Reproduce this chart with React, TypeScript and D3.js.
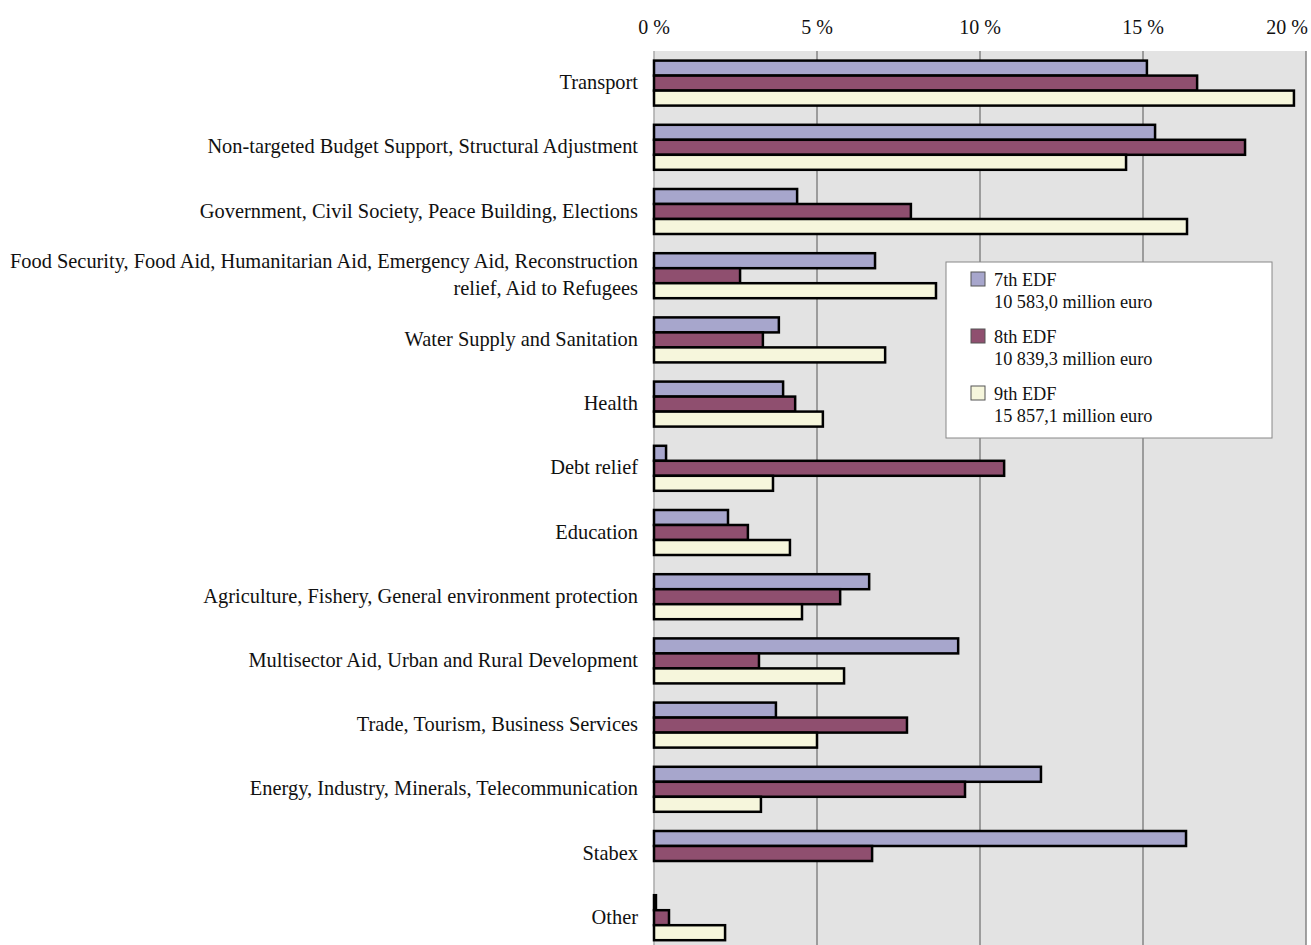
import React from 'react';
import * as d3 from 'd3';

const categories = [
  'Transport',
  'Non-targeted Budget Support, Structural Adjustment',
  'Government, Civil Society, Peace Building, Elections',
  'Food Security, Food Aid, Humanitarian Aid, Emergency Aid, Reconstruction\nrelief, Aid to Refugees',
  'Water Supply and Sanitation',
  'Health',
  'Debt relief',
  'Education',
  'Agriculture, Fishery, General environment protection',
  'Multisector Aid, Urban and Rural Development',
  'Trade, Tourism, Business Services',
  'Energy, Industry, Minerals, Telecommunication',
  'Stabex',
  'Other',
];

const seriesNames = ['7th EDF', '8th EDF', '9th EDF'];
const seriesTotals = ['10 583,0 million euro', '10 839,3 million euro', '15 857,1 million euro'];
const seriesColors = ['#a7a6cc', '#8f4f6f', '#f6f6dc'];

const edf7 = [15.12, 15.37, 4.39, 6.78, 3.83, 3.96, 0.37, 2.27, 6.6, 9.33, 3.74, 11.87, 16.32, 0.06];
const edf8 = [16.66, 18.13, 7.88, 2.64, 3.34, 4.33, 10.74, 2.88, 5.71, 3.22, 7.76, 9.54, 6.69, 0.46];
const edf9 = [19.63, 14.48, 16.35, 8.65, 7.09, 5.18, 3.65, 4.17, 4.54, 5.83, 5.0, 3.28, 0, 2.18];

const ticks = [0, 5, 10, 15, 20];

const width = 1311;
const height = 945;
const margin = { top: 51, left: 654, right: 5 };
const bandStep = 64.2;

const App: React.FC = () => {
  const values = [edf7, edf8, edf9];

  const x = d3.scaleLinear().domain([0, 20]).range([margin.left, width - margin.right]);
  const y = d3
    .scaleBand<string>()
    .domain(categories)
    .range([margin.top, margin.top + bandStep * categories.length])
    .paddingInner(0)
    .paddingOuter(0);
  const groupH = 45;
  const inner = d3.scaleBand<string>().domain(seriesNames).range([0, groupH]);
  const offset = (y.bandwidth() - groupH) / 2;
  const font = '"Liberation Serif", "DejaVu Serif", serif';

  return (
    <svg
      width={width}
      height={height}
      style={{ position: 'absolute', left: 0, top: 0, background: '#fff' }}
      fontFamily={font}
    >
      {/* plot background */}
      <rect x={x(0)} y={margin.top} width={x(20) - x(0)} height={height - margin.top} fill="#e3e3e3" />
      {ticks.map((t) => (
        <line key={'g' + t} x1={x(t)} x2={x(t)} y1={margin.top} y2={height} stroke={t === 0 ? '#aaa' : '#858585'} strokeWidth={1.5} />
      ))}
      {ticks.map((t, i) => (
        <text
          key={'t' + t}
          x={i === ticks.length - 1 ? width - 3 : x(t)}
          y={34}
          textAnchor={i === ticks.length - 1 ? 'end' : 'middle'}
          fontSize={20}
          fill="#111"
        >
          {t} %
        </text>
      ))}

      {categories.map((c, ci) => (
        <g key={c} transform={`translate(0,${(y(c) || 0) + offset})`}>
          {values.map((vals, si) =>
            vals[ci] > 0 ? (
              <rect
                key={si}
                x={x(0)}
                y={inner(seriesNames[si]) || 0}
                width={x(vals[ci]) - x(0)}
                height={inner.bandwidth()}
                fill={seriesColors[si]}
                stroke="#000"
                strokeWidth={2.5}
              />
            ) : null
          )}
        </g>
      ))}

      {categories.map((c) => {
        const lines = c.split('\n');
        const cy = (y(c) || 0) + y.bandwidth() / 2;
        const lh = 27;
        return (
          <text key={'l' + c} x={638} textAnchor="end" fontSize={20.4} fill="#111">
            {lines.map((ln, i) => (
              <tspan key={i} x={638} y={cy + 6 + (i - (lines.length - 1) / 2) * lh}>
                {ln}
              </tspan>
            ))}
          </text>
        );
      })}

      {/* legend */}
      <g transform="translate(946,262)">
        <rect x={0} y={0} width={326} height={176} fill="#fff" stroke="#888" strokeWidth={1} />
        {seriesNames.map((s, i) => {
          const top = 10 + i * 57;
          return (
            <g key={s} transform={`translate(0,${top})`}>
              <rect x={25} y={0} width={14} height={14} fill={seriesColors[i]} stroke="#555" strokeWidth={1} />
              <text x={48} y={14} fontSize={18.3} fill="#111">{s}</text>
              <text x={48} y={36} fontSize={18.3} fill="#111">{seriesTotals[i]}</text>
            </g>
          );
        })}
      </g>
    </svg>
  );
};

export default App;
